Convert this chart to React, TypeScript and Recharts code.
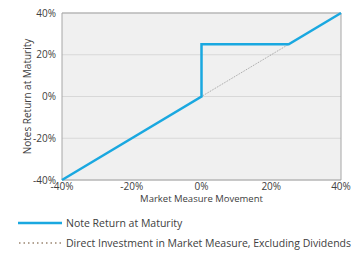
import React from "react";
import { LineChart, Line, XAxis, YAxis, CartesianGrid, ReferenceArea } from "recharts";

const xTicks = [-40, -20, 0, 20, 40];
const yTicks = [-40, -20, 0, 20, 40];
const noteX = [-40, 0, 0, 25, 40];
const noteY = [-40, 0, 25, 25, 40];
const directX = [0, 25];
const directY = [0, 25];

const noteData = noteX.map((x, i) => ({ x, y: noteY[i] }));
const directData = directX.map((x, i) => ({ x, y: directY[i] }));

const BLUE = "#1aa8e0";
const FONT = "'Open Sans', sans-serif";
const TXT = "#404040";

const LegendBlock = () => (
  <div style={{ fontFamily: FONT, fontSize: 10.5, color: TXT }}>
    <div style={{ position: "absolute", left: 18, top: 215, height: 16, display: "flex", alignItems: "center" }}>
      <svg width={44} height={4}><line x1={0} y1={2} x2={44} y2={2} stroke={BLUE} strokeWidth={2.5} /></svg>
      <span style={{ marginLeft: 4 }}>Note Return at Maturity</span>
    </div>
    <div style={{ position: "absolute", left: 18, top: 235, height: 16, display: "flex", alignItems: "center", whiteSpace: "nowrap" }}>
      <svg width={44} height={4}><line x1={1} y1={2} x2={44} y2={2} stroke="#9a8570" strokeWidth={1.5} strokeDasharray="1.5 3" /></svg>
      <span style={{ marginLeft: 4 }}>Direct Investment in Market Measure, Excluding Dividends</span>
    </div>
  </div>
);

export default function App() {
  return (
    <div style={{ position: "absolute", left: 0, top: 0, width: 352, height: 253 }}>
      <LineChart width={352} height={253} margin={{ top: 13, right: 11, bottom: 43, left: 0 }}>
        <CartesianGrid horizontal vertical={false} fill="#f0f0f0" stroke="#d8d8d8" />
        <XAxis
          type="number"
          dataKey="x"
          domain={[-40, 40]}
          ticks={xTicks}
          tickFormatter={(v) => `${v}%`}
          tick={{ fontFamily: FONT, fontSize: 10, fill: TXT }}
          tickLine={false}
          axisLine={false}
          tickSize={3}
          tickMargin={0}
          allowDuplicatedCategory={false}
          label={{ value: "Market Measure Movement", position: "insideBottom", offset: 8, style: { fontFamily: FONT, fontSize: 9.5, fill: TXT } }}
          height={30}
        />
        <YAxis
          type="number"
          dataKey="y"
          domain={[-40, 40]}
          ticks={yTicks}
          tickFormatter={(v) => `${v}%`}
          tick={{ fontFamily: FONT, fontSize: 10, fill: TXT }}
          tickLine={false}
          axisLine={false}
          tickSize={6}
          tickMargin={0}
          width={62}
          label={{ value: "Notes Return at Maturity", angle: -90, position: "insideLeft", offset: 27, style: { fontFamily: FONT, fontSize: 10, fill: TXT, textAnchor: "middle" } }}
        />
        <ReferenceArea x1={-40} x2={40} y1={-40} y2={40} fill="none" stroke="#a6a6a6" strokeWidth={1} ifOverflow="visible" />
        <Line data={directData} dataKey="y" stroke="#8c8c8c" strokeWidth={0.8} strokeDasharray="1 1" dot={false} isAnimationActive={false} legendType="none" />
        <Line data={noteData} dataKey="y" stroke={BLUE} strokeWidth={2.5} dot={false} isAnimationActive={false} legendType="none" />
      </LineChart>
      <LegendBlock />
    </div>
  );
}
